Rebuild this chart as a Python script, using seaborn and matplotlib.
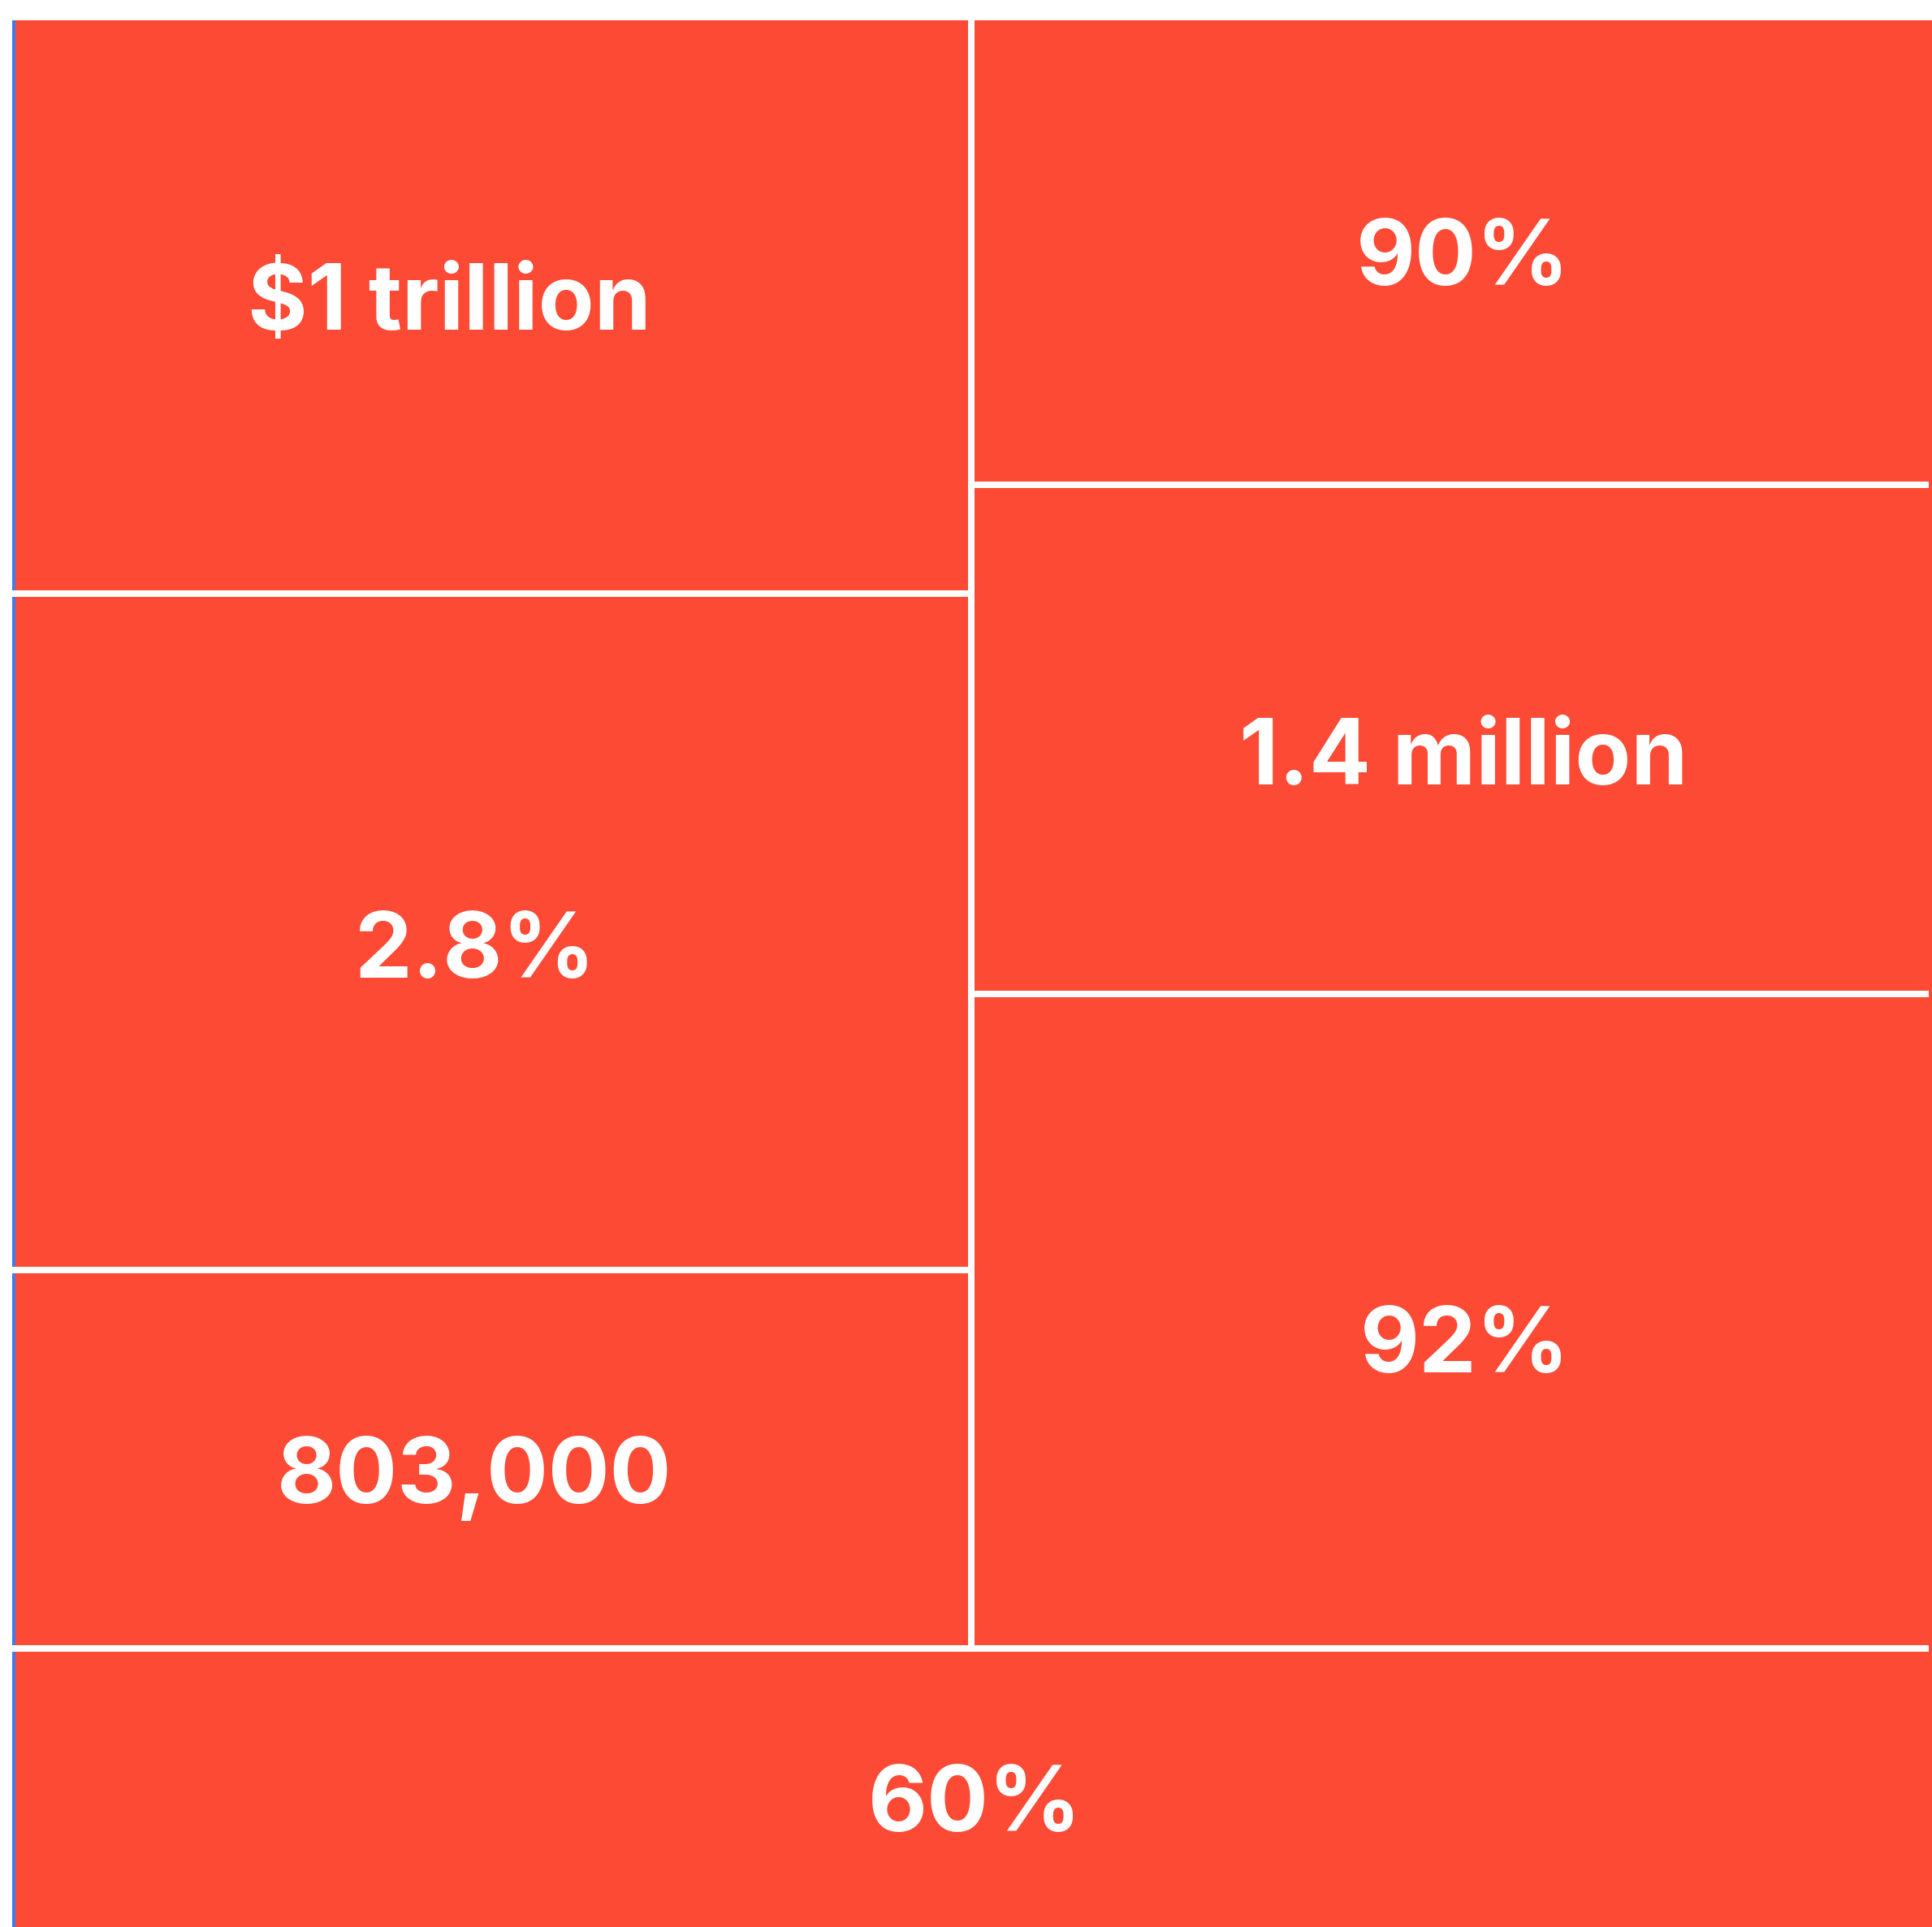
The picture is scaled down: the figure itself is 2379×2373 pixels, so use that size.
import matplotlib
matplotlib.use("Agg")
import matplotlib.pyplot as plt
import seaborn as sns
import pandas as pd

# Treemap cells: label text, column group and share of the total area (%)
labels = ["$1 trillion", "2.8%", "803,000", "90%", "1.4 million", "92%", "60%"]
groups = ["left", "left", "left", "right", "right", "right", "bottom"]
shares = [15.0, 17.7, 9.9, 12.2, 13.4, 17.2, 14.6]

RED = "#FC4A35"
BLUE = "#437AE9"
GAP = 8  # white gutter width in pixels

# fine placement of each label relative to its cell centre (pixels)
label_nudge = {
    "$1 trillion": (-54, -26),
    "2.8%": (-23, 2),
    "803,000": (-24, 0),
    "90%": (14, -14),
    "1.4 million": (15, 2),
    "92%": (16, 9),
    "60%": (2, -1),
}

sns.set_theme(style="white")
plt.rcParams["font.family"] = ["Inter", "DejaVu Sans"]

W_PX, H_PX = 2379, 2373
fig = plt.figure(figsize=(W_PX / 100, H_PX / 100), dpi=100, facecolor="white")
ax = fig.add_axes([0, 0, 1, 1])
ax.set_xlim(0, W_PX)
ax.set_ylim(H_PX, 0)
ax.set_axis_off()

# plotting region of the treemap (pixel units)
x0, x1 = 19, W_PX
y0, y1 = 25, H_PX
W, H = x1 - x0, y1 - y0

df = pd.DataFrame({"label": labels, "group": groups, "share": shares})

# slice layout: a full-width bottom band, then two stacked columns above it
bottom_share = df.loc[df.group == "bottom", "share"].sum()
bottom_h = bottom_share / 100 * H
top_h = H - bottom_h
left_sum = df.loc[df.group == "left", "share"].sum()
right_sum = df.loc[df.group == "right", "share"].sum()
left_w = left_sum / (left_sum + right_sum) * W
split_x = x0 + left_w
split_y = y0 + top_h

cells = []
for grp, cx0, cw, colsum in [("left", x0, left_w, left_sum),
                             ("right", split_x, W - left_w, right_sum)]:
    y = y0
    for _, r in df[df.group == grp].iterrows():
        h = r.share / colsum * top_h
        cells.append((r.label, cx0, y, cw, h))
        y += h
for _, r in df[df.group == "bottom"].iterrows():
    cells.append((r.label, x0, split_y, W, bottom_h))

cell_df = pd.DataFrame(cells, columns=["label", "x", "y", "w", "h"])

# left accent stripe
ax.bar(15, H_PX - y0, width=x0 - 15, bottom=y0, align="edge", color=BLUE, linewidth=0)

# cells
ax.bar(cell_df.x, cell_df.h, width=cell_df.w, bottom=cell_df.y, align="edge",
       color=RED, linewidth=0)

# white gutters between cells
lw = GAP * 72 / 100
ax.vlines(split_x, 0, split_y, colors="white", linewidth=lw)
for _, c in cell_df.iterrows():
    if c.y + c.h < split_y - 1:
        if c.x < split_x - 1:
            ax.hlines(c.y + c.h, 0, split_x, colors="white", linewidth=lw)
        else:
            ax.hlines(c.y + c.h, split_x, W_PX - 4, colors="white", linewidth=lw)
ax.hlines(split_y, 0, W_PX - 4, colors="white", linewidth=lw)

# labels
for _, c in cell_df.iterrows():
    dx, dy = label_nudge.get(c.label, (0, 0))
    ax.text(c.x + c.w / 2 + dx, c.y + c.h / 2 + 54 + dy, c.label, ha="center",
            va="baseline", color="white", fontsize=81, fontweight="bold")

fig.savefig("out.png", dpi=100, facecolor="white")
